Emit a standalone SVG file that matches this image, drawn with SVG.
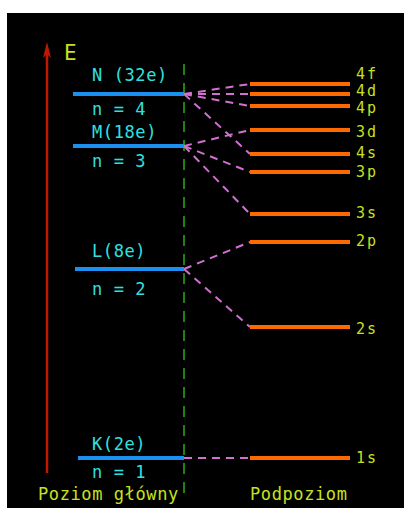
<svg xmlns="http://www.w3.org/2000/svg" width="404" height="508" viewBox="0 0 404 508">
<defs>
<style>
.t{font-family:"DejaVu Sans Mono","Liberation Mono",monospace;font-size:17px;letter-spacing:0.6px}
.r{font-size:15px;letter-spacing:2px}
.c{fill:#30e0e0}
.y{fill:#c8e020}
.main{stroke:#1a90f0;stroke-width:4}
.sub{stroke:#ff6a00;stroke-width:4}
.con{stroke:#d070d0;stroke-width:2;stroke-dasharray:8,6;fill:none}
</style>
</defs>
<rect width="404" height="508" fill="#fff"/>
<rect x="7" y="13" width="397" height="495" fill="#000"/>
<g id="axis">
<line x1="47" y1="52" x2="47" y2="473" stroke="#c01800" stroke-width="2.5"/>
<polygon points="47,42 43,58 47,54 51,58" fill="#c01800"/>
<text class="t y" x="64" y="60" style="font-size:21px">E</text>
</g>
<g id="divider">
<line x1="184" y1="64" x2="184" y2="500" stroke="#208010" stroke-width="2" stroke-dasharray="11,8"/>
</g>
<g id="connectors">
<line class="con" x1="184" y1="94" x2="250" y2="84"/>
<line class="con" x1="184" y1="94" x2="250" y2="94"/>
<line class="con" x1="184" y1="94" x2="250" y2="106"/>
<line class="con" x1="184" y1="94" x2="250" y2="154"/>
<line class="con" x1="184" y1="146" x2="250" y2="130"/>
<line class="con" x1="184" y1="146" x2="250" y2="172"/>
<line class="con" x1="184" y1="146" x2="250" y2="214"/>
<line class="con" x1="184" y1="269" x2="250" y2="242"/>
<line class="con" x1="184" y1="269" x2="250" y2="327"/>
<line class="con" x1="184" y1="458" x2="250" y2="458"/>
</g>
<g id="N">
<line class="main" x1="73" y1="94" x2="184" y2="94"/>
<text class="t c" x="92" y="81">N (32e)</text>
<text class="t c" x="92" y="115">n = 4</text>
</g>
<g id="M">
<line class="main" x1="73" y1="146" x2="184" y2="146"/>
<text class="t c" x="92" y="138">M(18e)</text>
<text class="t c" x="92" y="167">n = 3</text>
</g>
<g id="L">
<line class="main" x1="75" y1="269" x2="184" y2="269"/>
<text class="t c" x="92" y="257">L(8e)</text>
<text class="t c" x="92" y="295">n = 2</text>
</g>
<g id="K">
<line class="main" x1="78" y1="458" x2="184" y2="458"/>
<text class="t c" x="92" y="450">K(2e)</text>
<text class="t c" x="92" y="478">n = 1</text>
</g>
<g id="s4f"><line class="sub" x1="250" y1="84" x2="350" y2="84"/><text class="t r y" x="356" y="79">4f</text></g>
<g id="s4d"><line class="sub" x1="250" y1="94" x2="350" y2="94"/><text class="t r y" x="356" y="96">4d</text></g>
<g id="s4p"><line class="sub" x1="250" y1="106" x2="350" y2="106"/><text class="t r y" x="356" y="113">4p</text></g>
<g id="s3d"><line class="sub" x1="250" y1="130" x2="350" y2="130"/><text class="t r y" x="356" y="137">3d</text></g>
<g id="s4s"><line class="sub" x1="250" y1="154" x2="350" y2="154"/><text class="t r y" x="356" y="158">4s</text></g>
<g id="s3p"><line class="sub" x1="250" y1="172" x2="350" y2="172"/><text class="t r y" x="356" y="177">3p</text></g>
<g id="s3s"><line class="sub" x1="250" y1="214" x2="350" y2="214"/><text class="t r y" x="356" y="218">3s</text></g>
<g id="s2p"><line class="sub" x1="250" y1="242" x2="350" y2="242"/><text class="t r y" x="356" y="246">2p</text></g>
<g id="s2s"><line class="sub" x1="250" y1="327" x2="350" y2="327"/><text class="t r y" x="356" y="334">2s</text></g>
<g id="s1s"><line class="sub" x1="250" y1="458" x2="350" y2="458"/><text class="t r y" x="356" y="463">1s</text></g>
<g id="footer">
<text class="t y" x="38" y="500">Poziom główny</text>
<text class="t y" x="250" y="500">Podpoziom</text>
</g>
</svg>
